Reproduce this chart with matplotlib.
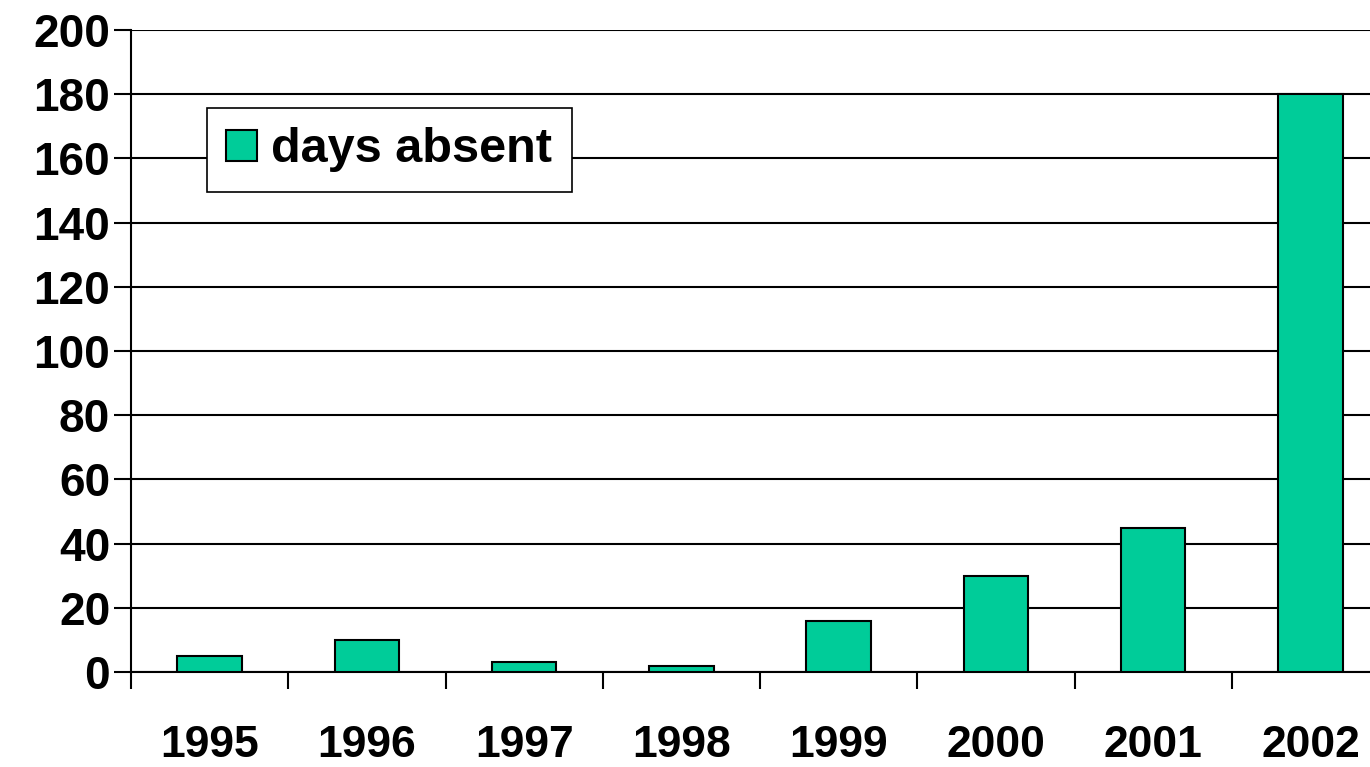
import numpy as np
import matplotlib
matplotlib.use("Agg")
import matplotlib.pyplot as plt

years = ['1995', '1996', '1997', '1998', '1999', '2000', '2001', '2002']
days_absent = [5, 10, 3, 2, 16, 30, 45, 180]

plt.rcParams['font.family'] = ['Liberation Sans', 'DejaVu Sans']
plt.rcParams['font.weight'] = 'bold'

W, H = 1370, 767
fig = plt.figure(figsize=(W / 100, H / 100), dpi=100)
# axes runs past the right edge, like the original
ax = fig.add_axes([131 / W, (H - 672) / H, (1389 - 131) / W, (672 - 30) / H])

x = np.arange(len(years))
ax.bar(x, days_absent, width=0.41, color='#00CC99', edgecolor='black',
       linewidth=1.5, label='days absent', zorder=3)

ax.set_xlim(-0.5, len(years) - 0.5)
ax.set_ylim(0, 200)
ax.set_yticks(np.arange(0, 201, 20))
ax.yaxis.grid(True, color='black', linewidth=1.5, zorder=0)

# category boundary ticks, labels centred under the bars
ax.set_xticks(np.arange(-0.5, len(years), 1.0))
ax.set_xticklabels([])
ax.set_xticks(x, minor=True)
ax.set_xticklabels(years, minor=True)
ax.tick_params(axis='x', which='major', direction='out', length=12, width=1.5)
ax.tick_params(axis='x', which='minor', length=0, pad=38, labelsize=32)
ax.tick_params(axis='y', direction='out', length=12, width=1.5, pad=3, labelsize=33)

for s in ['top', 'right']:
    ax.spines[s].set_visible(False)
ax.spines['left'].set_linewidth(1.5)
ax.spines['bottom'].set_linewidth(1.5)

leg = ax.legend(loc='upper left', bbox_to_anchor=(207 / W, 1 - 108 / H),
                bbox_transform=fig.transFigure, borderaxespad=0,
                fancybox=False, framealpha=1, edgecolor='black',
                prop={'size': 35, 'weight': 'bold'},
                handlelength=0.62, handleheight=0.62, handletextpad=0.3,
                borderpad=0.4)
leg.get_frame().set_linewidth(1.2)
leg.set_zorder(5)

fig.savefig('out.png', dpi=100)
